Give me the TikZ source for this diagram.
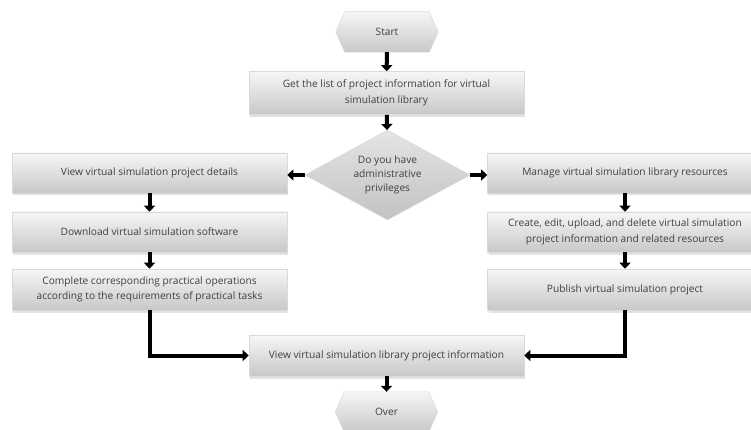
\documentclass[tikz,border=0pt]{standalone}
\usepackage{fontspec}
\setmainfont{Open Sans}
\usetikzlibrary{arrows.meta,shapes.geometric,shadows,backgrounds}
\definecolor{txt}{HTML}{404040}
\definecolor{topg}{HTML}{F6F6F6}
\definecolor{botg}{HTML}{C8C8C8}
\definecolor{dtop}{HTML}{E4E4E4}
\definecolor{dbot}{HTML}{C2C2C2}
\definecolor{edgec}{HTML}{DADADA}
\begin{document}
\begin{tikzpicture}[x=1pt,y=-1pt,
  lbl/.style={font=\fontsize{10.2}{15.5}\selectfont, text=txt, align=center},
  box/.style={lbl, rectangle, draw=edgec, line width=0.6pt, top color=topg, bottom color=botg,
    minimum width=275pt, minimum height=40pt, inner sep=2pt,
    drop shadow={shadow xshift=1pt, shadow yshift=-2.5pt, opacity=0.25, fill=black!45}},
  hexnode/.style={lbl, rectangle, minimum width=102pt, minimum height=40pt, inner sep=0pt},
  hexfill/.style={draw=edgec, line width=0.6pt, top color=topg, bottom color=botg},
  decision/.style={lbl, diamond, aspect=1.83, minimum width=165pt, minimum height=90pt, inner sep=0pt,
    draw=edgec, line width=0.6pt, top color=dtop, bottom color=dbot,
    font=\fontsize{10.2}{14}\selectfont},
  arr/.style={line width=4pt, line join=miter, -{Triangle[length=6pt,width=11pt]}}
]
\clip (0,0) rectangle (751,430);
\node[hexnode] (start) at (387,32) {Start};
\node[box, minimum height=43pt] (b1) at (386.5,93) {Get the list of project information for virtual\\simulation library};
\node[decision] (dec) at (387.5,175) {Do you have\\administrative\\privileges};
\node[box] (l1) at (149.5,173) {View virtual simulation project details};
\node[box] (l2) at (149.5,232) {Download virtual simulation software};
\node[box, minimum height=41pt] (l3) at (149.5,289.5) {Complete corresponding practical operations\\according to the requirements of practical tasks};
\node[box] (r1) at (625,173) {Manage virtual simulation library resources};
\node[box] (r2) at (625,232) {Create, edit, upload, and delete virtual simulation\\project information and related resources};
\node[box, minimum height=41pt] (r3) at (625,289.5) {Publish virtual simulation project};
\node[box, minimum height=41pt] (fin) at (386.5,355.5) {View virtual simulation library project information};
\node[hexnode] (over) at (386.5,412) {Over};
\begin{scope}[on background layer]
\foreach \n in {start,over}
  \path[hexfill] (\n.west) -- ([xshift=9pt]\n.north west) -- ([xshift=-9pt]\n.north east) -- (\n.east)
    -- ([xshift=-9pt]\n.south east) -- ([xshift=9pt]\n.south west) -- cycle;
\end{scope}
\draw[arr] (start) -- (b1);
\draw[arr] (b1) -- (dec);
\draw[arr] (dec.west) -- (dec.west -| l1.east);
\draw[arr] (dec.east) -- (dec.east -| r1.west);
\draw[arr] (l1) -- (l2);
\draw[arr] (l2) -- (l3);
\draw[arr] (r1) -- (r2);
\draw[arr] (r2) -- (r3);
\draw[arr] (l3.south) |- (fin.west);
\draw[arr] (r3.south) |- (fin.east);
\draw[arr] (fin) -- (over);
\end{tikzpicture}
\end{document}
